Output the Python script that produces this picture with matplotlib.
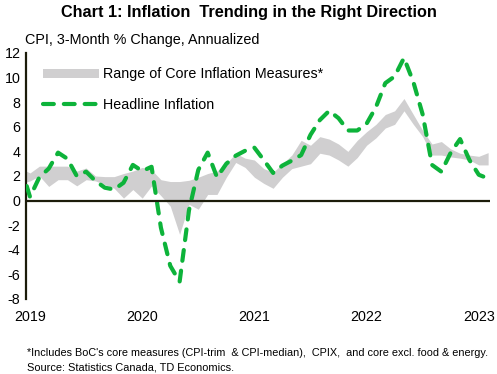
import matplotlib
matplotlib.use("Agg")
import matplotlib.pyplot as plt
import numpy as np
from matplotlib.patches import Patch
from matplotlib.lines import Line2D

plt.rcParams['font.family'] = ['Liberation Sans', 'DejaVu Sans']

# Months from Dec 2018 to Feb 2023
months = list(range(-1, 50))  # month index relative to Jan 2019

headline = [2.8,
            0.3, 1.9, 2.6, 3.9, 3.4, 2.0, 2.35, 1.6, 1.05, 0.9, 1.45, 2.9,
            2.4, 2.75, -2.2, -5.3, -6.6, -0.8, 2.5, 3.9, 1.9, 3.0, 3.65, 4.05,
            4.3, 3.3, 2.25, 2.85, 3.25, 3.7, 5.35, 6.55, 7.3, 6.7, 5.7, 5.7,
            6.25, 7.6, 9.55, 10.1, 11.6, 9.65, 7.0, 2.9, 2.35, 3.9, 5.0, 3.3,
            2.1, 1.8]

core_upper = [2.6,
              2.25, 2.8, 2.8, 2.8, 2.8, 2.4, 2.65, 2.0, 1.95, 1.95, 2.2, 2.4,
              2.7, 2.5, 1.7, 1.55, 1.55, 1.65, 1.9, 2.2, 2.4, 3.0, 3.85, 3.45,
              3.3, 2.6, 2.3, 3.0, 3.7, 4.9, 4.5, 5.2, 5.0, 4.6, 4.0, 4.9,
              5.6, 6.2, 7.0, 7.3, 8.3, 7.0, 5.7, 4.6, 4.8, 4.2, 3.85, 3.7,
              3.6, 3.9]

core_lower = [1.4,
              1.6, 2.0, 1.15, 1.7, 1.7, 1.2, 1.7, 1.6, 1.3, 1.0, 0.2, 0.9,
              0.2, 1.2, 0.4, -0.45, -2.75, -0.3, -0.7, 0.5, 0.5, 1.9, 3.1, 2.7,
              1.9, 1.4, 1.0, 1.9, 2.6, 2.8, 3.0, 3.85, 3.7, 3.3, 2.8, 3.5,
              4.5, 5.1, 5.9, 6.2, 7.3, 6.2, 5.2, 3.7, 3.7, 3.55, 3.45, 3.3,
              2.9, 2.9]

year_ticks = [0, 12, 24, 36, 48]
year_labels = ['2019', '2020', '2021', '2022', '2023']
y_ticks = [-8, -6, -4, -2, 0, 2, 4, 6, 8, 10, 12]

GREEN = '#0DB33A'
GRAY = '#D0CFD0'
DARK = '#1C1C0A'

fig = plt.figure(figsize=(4.97, 3.74), dpi=100)
ax = fig.add_axes([26/497, 1-299/374, 464/497, 246/374])

ax.fill_between(months, core_lower, core_upper, color=GRAY, linewidth=0, zorder=1)
ax.plot(months, headline, color=GREEN, linewidth=3.0, dashes=(2.6, 2.4),
        dash_capstyle='round', solid_capstyle='round', zorder=3)
ax.axhline(0, color=DARK, linewidth=1.6, zorder=4)

ax.set_xlim(-0.43, 49.2)
ax.set_ylim(-8, 12)
ax.set_yticks(y_ticks)
ax.set_yticklabels([str(v) for v in y_ticks])
ax.set_xticks(year_ticks)
ax.set_xticklabels(year_labels)
ax.tick_params(axis='both', length=0, labelsize=10.3, colors='black')
ax.tick_params(axis='y', pad=4)
ax.tick_params(axis='x', pad=8)

for s in ['top', 'right', 'bottom']:
    ax.spines[s].set_visible(False)
ax.spines['left'].set_color(DARK)
ax.spines['left'].set_linewidth(1.6)
ax.set_facecolor('white')

handles = [Patch(facecolor=GRAY, edgecolor='none'),
           Line2D([0], [0], color=GREEN, linewidth=3.0, dashes=(2.6, 2.4),
                  dash_capstyle='round')]
ax.legend(handles, ['Range of Core Inflation Measures*', 'Headline Inflation'],
          loc='upper left', bbox_to_anchor=(0.025, 0.965), frameon=False,
          fontsize=10.3, handlelength=3.9, handleheight=0.6, handletextpad=0.3,
          labelspacing=1.15, borderaxespad=0)

fig.text(0.5, 1-13/374, 'Chart 1: Inflation  Trending in the Right Direction',
         ha='center', va='center', fontsize=11.7, fontweight='bold')
fig.text(25/497, 1-40/374, 'CPI, 3-Month % Change, Annualized',
         ha='left', va='center', fontsize=10.4)
fig.text(27/497, 1-353/374,
         "*Includes BoC's core measures (CPI-trim  & CPI-median),  CPIX,  and core excl. food & energy.",
         ha='left', va='center', fontsize=7.85)
fig.text(27/497, 1-367/374, 'Source: Statistics Canada, TD Economics.',
         ha='left', va='center', fontsize=7.9)

fig.savefig('out.png', dpi=100)
